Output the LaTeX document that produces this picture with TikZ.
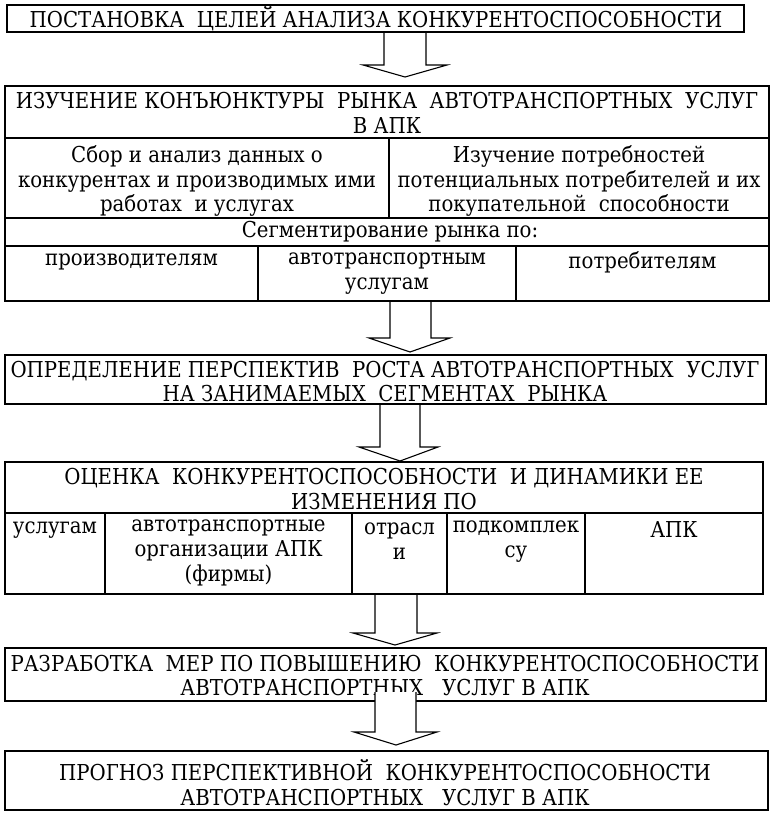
\documentclass[tikz,border=0pt]{standalone}
\usepackage{fontspec}
\setmainfont{DejaVu Serif Condensed}
\newcommand\blockarrow[8]{%
  \draw[barrow] (#1,#5) -- (#1,#6) -- (#3,#6) -- (#7,#8) -- (#4,#6) -- (#2,#6) -- (#2,#5);}
\begin{document}
\begin{tikzpicture}[x=1bp,y=-1bp,
  frame/.style={draw, line width=1.3bp, anchor=north west, inner sep=0pt, outer sep=0pt},
  txt/.style={align=center, inner sep=0pt, font=\fontsize{22}{25}\selectfont},
  rule/.style={line width=1.3bp},
  barrow/.style={draw, fill=white, line width=1.1bp, line join=miter}]
\useasboundingbox (0,0) rectangle (775,817);

% arrows behind boxes
\blockarrow{384}{426}{363}{447}{32}{65}{405}{77}
\blockarrow{390}{431}{369}{450}{301}{338}{410}{352}
\blockarrow{380}{420}{359}{438}{404}{447}{400}{461}
\blockarrow{375}{417}{353}{437}{594}{633}{395}{645}

% box 1
\node[frame, minimum width=737bp, minimum height=27bp] (b1) at (7,5) {};
\node[txt] (t1) at (376,19) {ПОСТАНОВКА\ \ ЦЕЛЕЙ АНАЛИЗА КОНКУРЕНТОСПОСОБНОСТИ};

% box 2 (table)
\node[frame, minimum width=764bp, minimum height=215bp] (b2) at (5,86) {};
\draw[rule] (5,138) -- (769,138);
\draw[rule] (5,218) -- (769,218);
\draw[rule] (5,246) -- (769,246);
\draw[rule] (389,138) -- (389,218);
\draw[rule] (258,246) -- (258,301);
\draw[rule] (516,246) -- (516,301);
\node[txt] (t2) at (387,112.5) {ИЗУЧЕНИЕ КОНЪЮНКТУРЫ\ \ РЫНКА\ \ АВТОТРАНСПОРТНЫХ\ \ УСЛУГ\\В АПК};
\node[txt] (t2a) at (197,181) {Сбор и анализ данных о\\конкурентах и производимых ими\\работах\ \ и услугах};
\node[txt] (t2b) at (579,181) {Изучение потребностей\\потенциальных потребителей и их\\покупательной\ \ способности};
\node[txt] (t2c) at (390,232) {Сегментирование рынка по:};
\node[txt] (t2d) at (131.5,262) {производителям};
\node[txt] (t2e) at (387,273.5) {автотранспортным\\услугам};
\node[txt] (t2f) at (642.5,262) {потребителям};

% box 3
\node[frame, minimum width=761bp, minimum height=49bp] (b3) at (5,355) {};
\node[txt] (t3) at (385,381.5) {ОПРЕДЕЛЕНИЕ ПЕРСПЕКТИВ\ \ РОСТА АВТОТРАНСПОРТНЫХ\ \ УСЛУГ\\НА ЗАНИМАЕМЫХ\ \ СЕГМЕНТАХ\ \ РЫНКА};

% box 4 (table)
\node[frame, minimum width=758bp, minimum height=132bp] (b4) at (5,462) {};
\draw[rule] (5,513) -- (763,513);
\foreach \xx in {105,352,447,585} \draw[rule] (\xx,513) -- (\xx,594);
\node[txt] (t4) at (384,489) {ОЦЕНКА\ \ КОНКУРЕНТОСПОСОБНОСТИ\ \ И ДИНАМИКИ ЕЕ\\ИЗМЕНЕНИЯ ПО};
\node[txt] (t4a) at (55,530) {услугам};
\node[txt] (t4b) at (228.5,553) {автотранспортные\\организации АПК\\(фирмы)};
\node[txt] (t4c) at (399.5,541.5) {отрасл\\и};
\node[txt] (t4d) at (516,541.5) {подкомплек\\су};
\node[txt] (t4e) at (674,530) {АПК};

% box 5
\node[frame, minimum width=761bp, minimum height=53bp] (b5) at (5,648) {};
\node[txt] (t5) at (385,675.5) {РАЗРАБОТКА\ \ МЕР ПО ПОВЫШЕНИЮ\ \ КОНКУРЕНТОСПОСОБНОСТИ\\АВТОТРАНСПОРТНЫХ\ \ \ УСЛУГ В АПК};

% box 6
\node[frame, minimum width=763bp, minimum height=59bp] (b6) at (5,751) {};
\node[txt] (t6) at (385,782.5) {ПРОГНОЗ ПЕРСПЕКТИВНОЙ\ \ КОНКУРЕНТОСПОСОБНОСТИ\\АВТОТРАНСПОРТНЫХ\ \ \ УСЛУГ В АПК};

% arrow 5 drawn over box 5
\blockarrow{375}{416}{354}{437}{692}{732}{396}{745}
\end{tikzpicture}
\end{document}
